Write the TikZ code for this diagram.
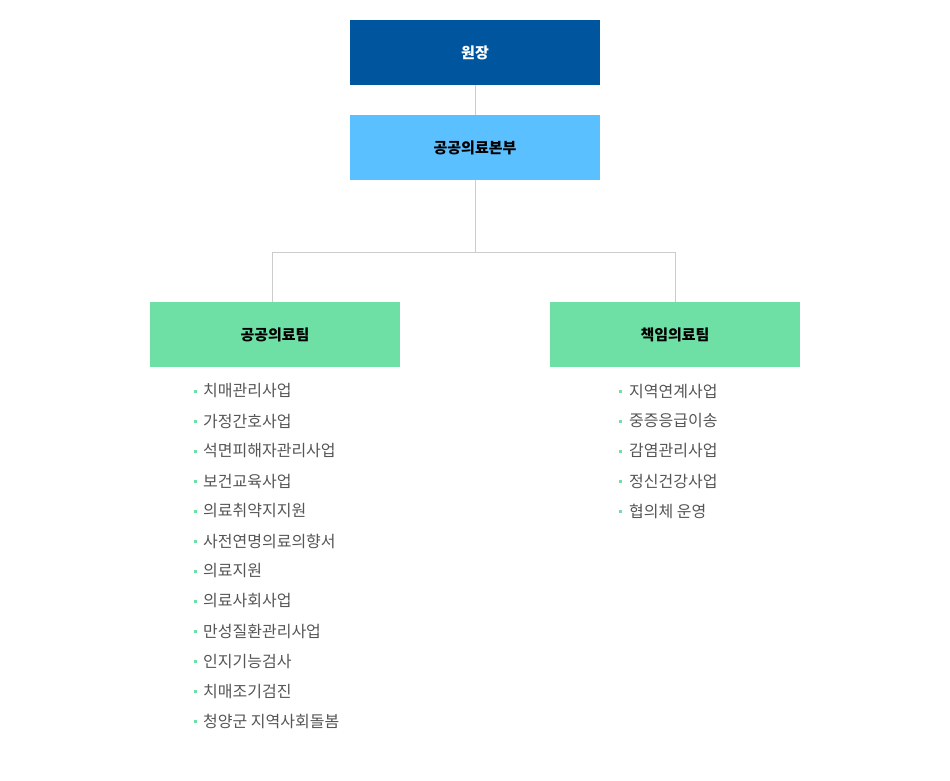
\documentclass[tikz,border=0pt]{standalone}
\usepackage{fontspec}
\setmainfont{Noto Sans CJK KR}
\definecolor{dblue}{HTML}{00569E}
\definecolor{lblue}{HTML}{5BC0FF}
\definecolor{green}{HTML}{6EE0A6}
\definecolor{txt}{HTML}{555555}
\definecolor{ln}{HTML}{CCCCCC}
\begin{document}
\begin{tikzpicture}[x=1pt,y=-1pt,
  box/.style={minimum width=250pt,minimum height=65pt,inner sep=0pt,font=\fontsize{15}{18}\selectfont\bfseries},
  item/.style={anchor=west,text=txt,font=\fontsize{16}{19}\selectfont,inner sep=0pt},
  conn/.style={draw=ln,line width=0.8pt}]
\useasboundingbox (0,0) rectangle (950,780);
\node[box,fill=dblue,text=white] (a) at (475,52.5) {원장};
\node[box,fill=lblue] (b) at (475,147.5) {공공의료본부};
\node[box,fill=green] (l) at (275,334.5) {공공의료팀};
\node[box,fill=green] (r) at (675,334.5) {책임의료팀};
\coordinate (m) at (475,252);
\draw[conn] (a) -- (b);
\draw[conn] (b) -- (m) -| (272,302);
\draw[conn] (m) -| (r);
\foreach \t [count=\i] in {치매관리사업,가정간호사업,석면피해자관리사업,보건교육사업,의료취약지지원,사전연명의료의향서,의료지원,의료사회사업,만성질환관리사업,인지기능검사,치매조기검진,청양군 지역사회돌봄}{
  \fill[green] (193.5,{361+30*\i-1.5}) rectangle ++(3,3);
  \node[item] (L\i) at (203,{361+30*\i}) {\t};
}
\foreach \t [count=\i] in {지역연계사업,중증응급이송,감염관리사업,정신건강사업,협의체 운영}{
  \fill[green] (618.5,{361+30*\i-1.5}) rectangle ++(3,3);
  \node[item] (R\i) at (629,{361+30*\i}) {\t};
}
\end{tikzpicture}
\end{document}
